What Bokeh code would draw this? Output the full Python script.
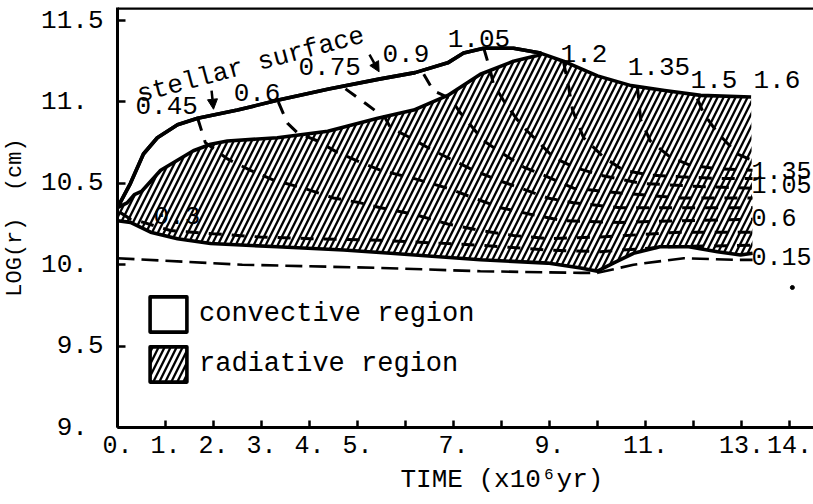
import numpy as np
from bokeh.plotting import figure
from bokeh.models import (Range1d, FixedTicker, Label, Arrow, NormalHead, Span, Legend,
                          LegendItem, Title)
from bokeh.embed import file_html
from bokeh.resources import INLINE

# ---------------- data (time in 1e6 yr, log r in cm) ----------------
surface_t = [0.0, 0.27, 0.54, 0.83, 1.25, 1.67, 2.5, 3.33, 4.4, 5.45, 6.2, 6.88, 7.21, 7.63, 8.25, 8.81,
             9.29, 10.0, 10.7, 11.4, 12.15, 13.2]
surface_y = [10.35, 10.50, 10.68, 10.78, 10.86, 10.90, 10.95, 11.01, 11.08, 11.14, 11.18, 11.24, 11.30, 11.33,
             11.33, 11.30, 11.25, 11.16, 11.10, 11.07, 11.04, 11.03]

radtop_t = [0.0, 0.2, 0.35, 0.5, 0.9, 1.58, 1.94, 2.29, 3.33, 4.38, 5.42, 6.17, 6.88, 7.56, 8.25, 8.81]
radtop_y = [10.35, 10.38, 10.43, 10.45, 10.58, 10.70, 10.74, 10.76, 10.78, 10.82, 10.90, 10.95, 11.04, 11.17,
            11.25, 11.29]

bottom_t = [0.0, 0.27, 0.69, 1.25, 1.94, 3.33, 4.71, 5.69, 7.56, 8.96, 9.65, 10.0, 10.33, 10.75, 11.3, 11.9,
            12.5, 12.98, 13.23]
bottom_y = [10.27, 10.26, 10.20, 10.16, 10.13, 10.11, 10.09, 10.07, 10.03, 10.01, 9.98, 9.96, 10.01, 10.07,
            10.11, 10.11, 10.08, 10.06, 10.07]

m015_t = [0.0, 2.6, 5.5, 7.56, 9.65, 10.0, 10.75, 11.8, 12.83, 13.23]
m015_y = [10.04, 10.00, 9.98, 9.96, 9.95, 9.95, 10.00, 10.04, 10.03, 10.03]

m030_t = [0.06, 0.27, 0.54, 1.10, 2.0, 2.98, 4.02, 5.48, 7.56, 8.96, 10.06, 11.46, 13.23]
m030_y = [10.32, 10.28, 10.26, 10.21, 10.19, 10.17, 10.16, 10.15, 10.12, 10.09, 10.08, 10.11, 10.12]

m045_t = [1.67, 1.83, 2.29, 2.77, 3.25, 3.88, 4.5, 5.06, 5.48, 6.17, 6.88, 7.56, 8.25, 8.96, 10.06, 11.73, 13.23]
m045_y = [10.90, 10.75, 10.65, 10.58, 10.52, 10.47, 10.41, 10.38, 10.35, 10.31, 10.25, 10.21, 10.18, 10.16,
          10.17, 10.20, 10.20]

m060_t = [3.35, 3.54, 3.75, 4.17, 4.58, 5.06, 5.48, 6.17, 6.88, 7.42, 7.98, 8.60, 9.29, 10.48, 11.73, 13.23]
m060_y = [11.00, 10.87, 10.81, 10.76, 10.69, 10.63, 10.58, 10.53, 10.47, 10.41, 10.35, 10.31, 10.27, 10.26,
          10.27, 10.28]

m075_t = [4.75, 5.17, 5.58, 5.69, 6.10, 6.52, 7.0, 7.42, 7.92, 8.40, 8.96, 9.5, 10.48, 11.73, 13.23]
m075_y = [11.08, 10.99, 10.90, 10.84, 10.78, 10.71, 10.64, 10.58, 10.52, 10.47, 10.41, 10.38, 10.35, 10.35, 10.35]

m090_t = [6.38, 6.58, 6.94, 7.15, 7.35, 7.63, 8.04, 8.46, 8.96, 9.5, 10.48, 11.73, 13.23]
m090_y = [11.17, 11.07, 11.02, 10.93, 10.86, 10.76, 10.68, 10.60, 10.54, 10.47, 10.44, 10.41, 10.41]

m105_t = [7.63, 7.77, 7.83, 8.04, 8.33, 8.54, 8.75, 9.08, 9.5, 10.06, 10.90, 12.15, 13.23]
m105_y = [11.33, 11.19, 11.11, 11.01, 10.89, 10.82, 10.76, 10.66, 10.60, 10.55, 10.50, 10.48, 10.47]

m120_t = [9.29, 9.40, 9.48, 9.71, 10.13, 10.54, 11.10, 11.73, 12.5, 13.23]
m120_y = [11.25, 11.09, 10.95, 10.78, 10.66, 10.58, 10.55, 10.54, 10.53, 10.53]

m135_t = [10.83, 10.90, 11.10, 11.52, 11.94, 12.5, 13.23]
m135_y = [11.10, 10.89, 10.76, 10.66, 10.61, 10.59, 10.58]

m150_t = [12.08, 12.21, 12.5, 12.92, 13.23]
m150_y = [11.02, 10.93, 10.81, 10.68, 10.64]

x_ticks = list(range(15))
x_tick_labels = ["0.", "1.", "2.", "3.", "4.", "5.", "", "7.", "", "9.", "", "11.", "", "13.", "14."]
y_ticks = [9.0, 9.5, 10.0, 10.5, 11.0, 11.5]
y_tick_labels = ["\u00a09.\u00a0", "\u00a09.5", "10.\u00a0", "10.5", "11.\u00a0", "11.5"]

top_mass_labels = ["0.45", "0.6", "0.75", "0.9", "1.05", "1.2", "1.35", "1.5", "1.6"]
top_mass_x = [0.375, 2.42, 3.77, 5.52, 6.88, 9.23, 10.63, 11.94, 13.25]
top_mass_y = [10.98, 11.06, 11.22, 11.30, 11.39, 11.30, 11.22, 11.14, 11.14]
side_mass_labels = ["1.35", "1.05", "0.6", "0.15"]
side_mass_x = [13.21, 13.21, 13.21, 13.21]
side_mass_y = [10.58, 10.49, 10.29, 10.05]
low_label = "0.3"
low_label_x, low_label_y = 0.75, 10.30

MONO = "Liberation Mono"

# ---------------- figure ----------------
p = figure(width=813, height=504, x_range=Range1d(0, 14.5), y_range=Range1d(9.0, 11.58),
           output_backend="svg", toolbar_location=None,
           min_border_left=117, min_border_right=0, min_border_top=7, min_border_bottom=77)
p.outline_line_color = None
p.grid.visible = False
p.background_fill_color = "white"
p.border_fill_color = "white"

for ax in (p.xaxis[0], p.yaxis[0]):
    ax.axis_line_width = 3
    ax.major_tick_line_width = 2.5
    ax.major_tick_out = 0
    ax.minor_tick_line_color = None
    ax.major_label_text_font = MONO
    ax.major_label_text_color = "black"

p.xaxis.ticker = FixedTicker(ticks=x_ticks)
p.xaxis.major_label_overrides = {t: s for t, s in zip(x_ticks, x_tick_labels)}
p.xaxis.major_tick_in = 7
p.xaxis.major_label_text_font_size = "25px"
p.xaxis.major_label_standoff = 8

p.yaxis.ticker = FixedTicker(ticks=y_ticks)
p.yaxis.major_label_overrides = {t: s for t, s in zip(y_ticks, y_tick_labels)}
p.yaxis.major_tick_in = 8
p.yaxis.major_label_text_font_size = "26px"
p.yaxis.major_label_standoff = 14
p.yaxis.axis_label = "LOG(r)\u00a0\u00a0(cm)"
p.yaxis.axis_label_text_font = MONO
p.yaxis.axis_label_text_font_size = "22px"
p.yaxis.axis_label_text_font_style = "normal"
p.yaxis.axis_label_text_color = "black"
p.yaxis.axis_label_standoff = 10

p.add_layout(Title(text="TIME (x10\u2076yr)", align="left", offset=283, standoff=14,
                   text_font=MONO, text_font_size="26px", text_font_style="normal",
                   text_color="black"), "below")

p.add_layout(Span(location=11.575, dimension="width", line_color="black", line_width=3))

# radiative (hatched) region
rad_x = radtop_t + [t for t in surface_t if t > radtop_t[-1]] + bottom_t[::-1]
rad_y = radtop_y + [y for t, y in zip(surface_t, surface_y) if t > radtop_t[-1]] + bottom_y[::-1]
rad = p.patch(rad_x, rad_y, fill_color="white", line_color=None,
              hatch_pattern="/", hatch_color="black", hatch_weight=2.3, hatch_scale=12)

# mass contours
for tt, yy in [(m030_t, m030_y), (m045_t, m045_y), (m060_t, m060_y), (m075_t, m075_y),
               (m090_t, m090_y), (m105_t, m105_y), (m120_t, m120_y), (m135_t, m135_y),
               (m150_t, m150_y)]:
    p.line(tt, yy, line_color="black", line_width=3, line_dash="13 10")
p.line(m015_t, m015_y, line_color="black", line_width=2.6, line_dash="17 7")

# convective region (outline = stellar surface + top of radiative zone)
conv_x = [t for t in surface_t if t <= radtop_t[-1]] + radtop_t[::-1]
conv_y = [y for t, y in zip(surface_t, surface_y) if t <= radtop_t[-1]] + radtop_y[::-1]
conv = p.patch(conv_x, conv_y, fill_color=None, line_color="black", line_width=3.6, line_join="round")

p.line(surface_t, surface_y, line_color="black", line_width=3.6, line_join="round")
p.line(bottom_t, bottom_y, line_color="black", line_width=3.6, line_join="round")

legend = Legend(items=[LegendItem(label="convective region", renderers=[conv]),
                       LegendItem(label="radiative region", renderers=[rad, conv])],
                location=(28, 41), margin=0, padding=0, spacing=6, glyph_width=46, glyph_height=44,
                label_standoff=8, label_text_font=MONO, label_text_font_size="27px",
                label_text_color="black", border_line_color=None, background_fill_alpha=0)
p.add_layout(legend)

# texts
for txt, x, y in zip(top_mass_labels, top_mass_x, top_mass_y):
    p.add_layout(Label(x=x, y=y, text=txt, text_font=MONO, text_font_size="26px",
                       text_align="left", text_baseline="middle", text_color="black"))
for txt, x, y in zip(side_mass_labels, side_mass_x, side_mass_y):
    p.add_layout(Label(x=x, y=y, text=txt, text_font=MONO, text_font_size="25px",
                       text_align="left", text_baseline="middle", text_color="black"))
p.add_layout(Label(x=low_label_x, y=low_label_y, text=low_label, text_font=MONO, text_font_size="26px",
                   text_align="left", text_baseline="middle", text_color="black"))

p.add_layout(Label(x=0.42, y=11.04, text="stellar surface", angle=0.26, angle_units="rad",
                   text_font=MONO, text_font_size="26px", text_baseline="alphabetic",
                   text_color="black"))
p.add_layout(Arrow(end=NormalHead(size=10, fill_color="black", line_color="black"),
                   x_start=1.96, y_start=11.07, x_end=2.0, y_end=10.955, line_width=2.5))
p.add_layout(Arrow(end=NormalHead(size=10, fill_color="black", line_color="black"),
                   x_start=5.25, y_start=11.29, x_end=5.45, y_end=11.185, line_width=2.5))
p.scatter([14.06], [9.86], size=4, color="black")

open("out.html", "w").write(file_html(p, INLINE))
